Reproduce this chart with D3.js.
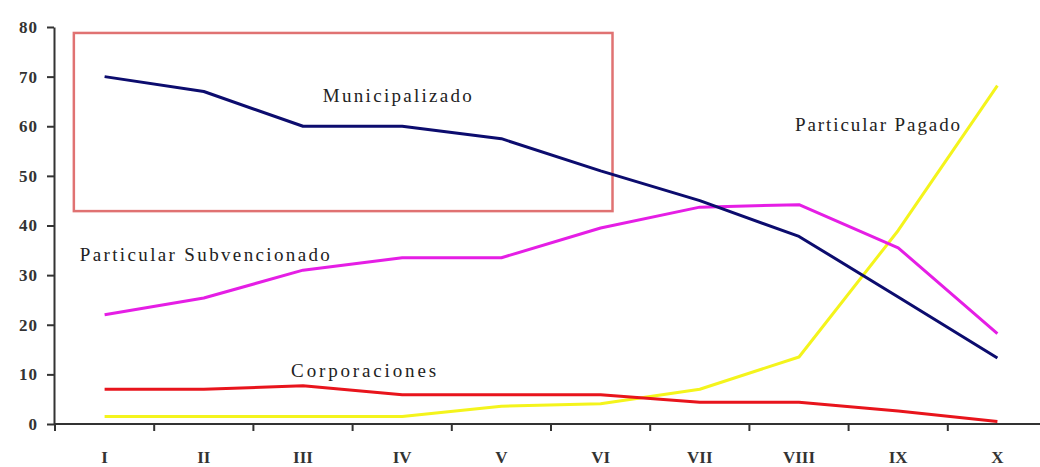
<!DOCTYPE html>
<html>
<head>
    <meta charset="utf-8">
    <title>Municipalizado / Particular</title>
    <script src="https://d3js.org/d3.v7.min.js"></script>
    <style>
        body {
            margin: 0;
            background-color: white;
        }
        svg {
            display: block;
            font-family: "Liberation Serif", "DejaVu Serif", serif;
        }
        .line {
            fill: none;
            stroke-width: 3px;
            stroke-linejoin: round;
        }
        .axis path,
        .axis line {
            stroke: #333;
            stroke-width: 2px;
        }
        .axis text {
            fill: #333;
            font-size: 17px;
            font-family: "Liberation Serif", "DejaVu Serif", serif;
        }
        .label {
            fill: #222;
            font-size: 19px;
        }
    </style>
</head>
<body>
    <svg width="1040" height="467"></svg>

    <script>
        // data
        const categories = ["I", "II", "III", "IV", "V", "VI", "VII", "VIII", "IX", "X"];
        const municipalizado = [70, 67, 60, 60, 57.5, 51, 45, 37.8, 25.6, 13.3];
        const subvencionado = [22, 25.4, 31, 33.5, 33.5, 39.5, 43.7, 44.2, 35.5, 18.2];
        const corporaciones = [7, 7, 7.7, 5.9, 5.9, 5.9, 4.4, 4.4, 2.6, 0.5];
        const pagado = [1.5, 1.5, 1.5, 1.5, 3.6, 4.1, 7, 13.5, 39, 68.2];
        const yTicks = [0, 10, 20, 30, 40, 50, 60, 70, 80];

        const seriesList = [
            { name: "Particular Pagado", values: pagado, color: "#f4f41c" },
            { name: "Corporaciones", values: corporaciones, color: "#e8141c" },
            { name: "Particular Subvencionado", values: subvencionado, color: "#e51ee5" },
            { name: "Municipalizado", values: municipalizado, color: "#0c0c6e" }
        ];

        // text labels placed in data units (category index, value)
        const labels = [
            { text: "Municipalizado", idx: 2.2, val: 64.9, len: 149 },
            { text: "Particular Pagado", idx: 6.96, val: 59.1, len: 165 },
            { text: "Particular Subvencionado", idx: -0.25, val: 32.9, len: 250 },
            { text: "Corporaciones", idx: 1.88, val: 9.5, len: 145 }
        ];

        // highlight box, in data units
        const box = { idx0: -0.31, idx1: 5.12, top: 78.8, bottom: 42.9 };

        const svg = d3.select("svg");

        const x = d3.scaleBand()
                    .domain(categories)
                    .range([55, 1047]);

        const y = d3.scaleLinear()
                    .domain([0, 80])
                    .range([424, 27]);

        const cx = c => x(c) + x.bandwidth() / 2;
        const xIdx = d3.scaleLinear()
                       .domain([0, categories.length - 1])
                       .range([cx(categories[0]), cx(categories[categories.length - 1])]);

        // Box
        svg.append("rect")
           .attr("x", xIdx(box.idx0))
           .attr("y", y(box.top))
           .attr("width", xIdx(box.idx1) - xIdx(box.idx0))
           .attr("height", y(box.bottom) - y(box.top))
           .attr("fill", "none")
           .attr("stroke", "#e07272")
           .attr("stroke-width", 2.5);

        // Axes
        const xAxis = svg.append("g")
           .attr("class", "axis")
           .attr("transform", `translate(0,${y(0)})`)
           .call(d3.axisBottom(x).tickSize(0).tickSizeOuter(0).tickPadding(27));
        xAxis.select(".domain").attr("d", `M${x.range()[0]},0H1040`);
        xAxis.selectAll(".tick text").attr("font-weight", "bold");

        xAxis.selectAll(".sep")
             .data(categories)
             .enter()
             .append("line")
             .attr("x1", d => x(d))
             .attr("x2", d => x(d))
             .attr("y1", 0)
             .attr("y2", 7);

        svg.append("g")
           .attr("class", "axis")
           .attr("transform", `translate(${x.range()[0] - 1},0)`)
           .call(d3.axisLeft(y).tickValues(yTicks).tickSize(7).tickSizeOuter(0).tickPadding(9))
           .selectAll("text")
           .attr("font-weight", "bold")
           .attr("letter-spacing", "1px");

        // Lines
        const line = d3.line()
                       .x((d, i) => cx(categories[i]))
                       .y(d => y(d));

        svg.selectAll(".line")
           .data(seriesList)
           .enter()
           .append("path")
           .attr("class", "line")
           .attr("stroke", d => d.color)
           .attr("d", d => line(d.values));

        // Labels
        svg.selectAll(".label")
           .data(labels)
           .enter()
           .append("text")
           .attr("class", "label")
           .attr("x", d => xIdx(d.idx))
           .attr("y", d => y(d.val))
           .attr("textLength", d => d.len)
           .attr("lengthAdjust", "spacing")
           .text(d => d.text);
    </script>
</body>
</html>
